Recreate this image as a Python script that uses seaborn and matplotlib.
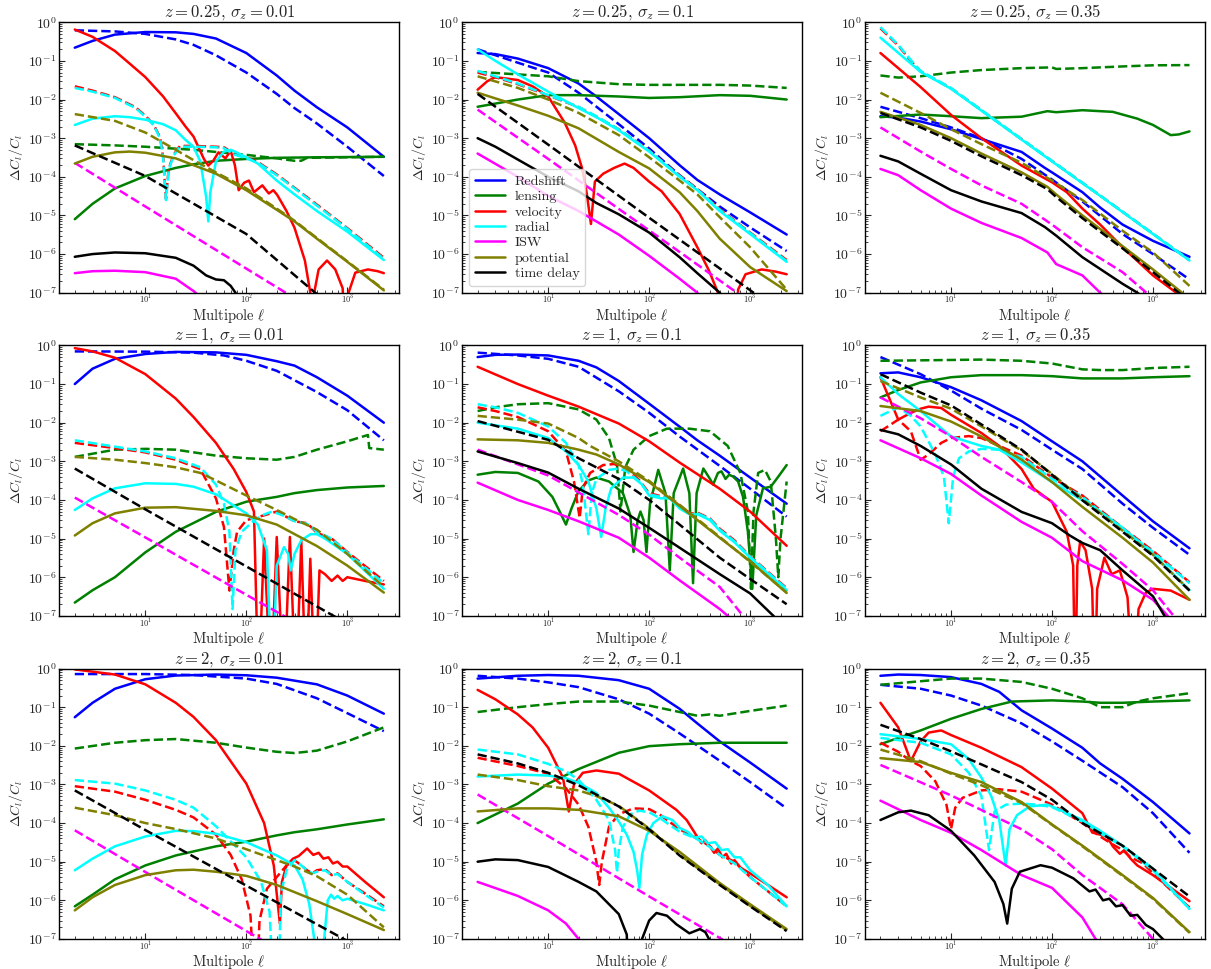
import numpy as np
import pandas as pd
import matplotlib
matplotlib.use('Agg')
import matplotlib.pyplot as plt
from matplotlib.lines import Line2D
import seaborn as sns

COMPONENTS = ['Redshift', 'lensing', 'velocity', 'radial', 'ISW', 'potential', 'time delay']
COLORS = {'Redshift': '#0000ff', 'lensing': '#008000', 'velocity': '#ff0000', 'radial': '#00ffff',
          'ISW': '#ff00ff', 'potential': '#808000', 'time delay': '#000000'}

# ---- z = 0.25, sigma_z = 0.01 ----
z025_s001_solid = {
    'Redshift': [(2, .22), (3, .33), (5, .48), (10, .56), (20, .55), (30, .5), (50, .38), (100, .16), (200, .042),
                 (300, .017), (500, 6.3e-3), (1000, 1.9e-3), (2300, 3.3e-4)],
    'lensing': [(2, 8e-6), (3, 2e-5), (5, 5e-5), (10, 1.05e-4), (20, 1.7e-4), (30, 2.1e-4), (50, 2.6e-4), (100, 2.9e-4),
                (200, 3.1e-4), (500, 3.2e-4), (2300, 3.3e-4)],
    'velocity': [(2, .65), (3, .42), (5, .18), (7, .085), (10, .038), (15, .012), (20, 4.4e-3), (25, 2e-3), (30, 1.1e-3),
                 (38, 2.9e-4), (42, 1.95e-4), (47, 2.6e-4), (53, 4.3e-4), (62, 3e-4), (70, 4.7e-4), (77, 2e-4),
                 (84, 4.5e-5), (95, 7e-5), (106, 8e-5), (119, 4e-5), (144, 6e-5), (167, 3.7e-5), (185, 4.5e-5),
                 (202, 3.4e-5), (250, 1.3e-5), (300, 4.8e-6), (380, 6.8e-7), (430, 1e-7), (450, 1e-9), (470, 1e-7),
                 (520, 4e-7), (630, 6.8e-7), (760, 4e-7), (900, 1.3e-7), (960, 1e-9), (1030, 1e-7), (1200, 3.3e-7),
                 (1600, 4e-7), (2000, 3.6e-7), (2300, 3.2e-7)],
    'radial': [(2, 2.2e-3), (3, 3.2e-3), (5, 3.7e-3), (7, 3.5e-3), (10, 3e-3), (15, 2.3e-3), (20, 1.6e-3), (25, 9e-4),
               (30, 6e-4), (35, 2.5e-4), (40, 3e-5), (42, 7e-6), (44, 4e-5), (50, 2.5e-4), (60, 4.5e-4), (70, 5e-4),
               (80, 4.3e-4), (100, 3.2e-4), (130, 2.2e-4), (200, 8e-5), (300, 3.5e-5), (500, 1.3e-5), (1000, 3.8e-6),
               (2300, 7e-7)],
    'ISW': [(2, 3.2e-7), (3, 3.6e-7), (5, 3.7e-7), (10, 3.4e-7), (20, 2.3e-7), (30, 1.1e-7), (40, 6e-8)],
    'potential': [(2, 2.2e-4), (3, 3.3e-4), (5, 4.3e-4), (7, 4.5e-4), (10, 4.2e-4), (20, 3e-4), (30, 2e-4), (50, 1.2e-4),
                  (100, 4.5e-5), (200, 1.4e-5), (300, 7e-6), (500, 2.5e-6), (1000, 6.3e-7), (2300, 1.15e-7)],
    'time delay': [(2, 8.5e-7), (3, 1e-6), (5, 1.1e-6), (10, 1.05e-6), (20, 8e-7), (30, 5e-7), (40, 2.8e-7),
                   (50, 2.2e-7), (60, 2.1e-7), (70, 1.5e-7), (78, 1e-7), (100, 3e-8)],
}
z025_s001_dashed = {
    'Redshift': [(2, .62), (5, .58), (10, .5), (20, .36), (30, .26), (50, .14), (100, .05), (200, .014), (300, 6e-3),
                 (500, 2.4e-3), (1000, 6e-4), (2300, 1.05e-4)],
    'lensing': [(2, 7e-4), (5, 6.5e-4), (10, 6e-4), (30, 5e-4), (100, 3.7e-4), (200, 3e-4), (300, 2.6e-4), (350, 2.6e-4),
                (400, 3.1e-4), (1000, 3.2e-4), (2300, 3.3e-4)],
    'velocity': [(2, .022), (3, .017), (5, .0115), (8, 6.3e-3), (10, 3.8e-3), (12, 2.3e-3), (14, 1.05e-3), (15, 3.2e-4),
                 (16, 2.7e-5), (17, 1.6e-4), (19, 3.7e-4), (22, 6.3e-4), (30, 6.3e-4), (50, 6e-4), (60, 5.8e-4),
                 (75, 4e-4), (100, 3.2e-4), (130, 2.4e-4), (200, 1.15e-4), (300, 5.2e-5), (500, 1.9e-5),
                 (1000, 4.7e-6), (2300, 8e-7)],
    'radial': [(2, .02), (3, .016), (5, .011), (8, 6e-3), (10, 3.6e-3), (12, 2.2e-3), (14, 1e-3), (15, 3e-4),
               (16, 2.5e-5), (17, 1.5e-4), (19, 3.5e-4), (22, 6e-4), (30, 6e-4), (50, 5.8e-4), (60, 5.5e-4),
               (75, 3.8e-4), (100, 3e-4), (130, 2.3e-4), (200, 1.1e-4), (300, 5e-5), (500, 1.8e-5), (1000, 4.5e-6),
               (2300, 7.5e-7)],
    'ISW': [(2, 2.3e-4), (10, 1.7e-5), (100, 4.2e-7), (245, 1e-7), (500, 3e-8)],
    'potential': [(2, 4.2e-3), (5, 2.8e-3), (10, 1.4e-3), (20, 5e-4), (30, 2.7e-4), (50, 1.3e-4), (100, 5e-5),
                  (200, 1.5e-5), (300, 7.3e-6), (500, 2.6e-6), (1000, 6.5e-7), (2300, 1.2e-7)],
    'time delay': [(2, 6.5e-4), (10, 1.05e-4), (100, 3.3e-6), (480, 1e-7), (1000, 3e-8)],
}

# ---- z = 0.25, sigma_z = 0.1 ----
z025_s01_solid = {
    'Redshift': [(2, .16), (3, .15), (5, .115), (10, .065), (20, .026), (30, .012), (50, 4.2e-3), (100, 1e-3),
                 (200, 2e-4), (300, 8.3e-5), (500, 3.5e-5), (1000, 1.2e-5), (2300, 3.2e-6)],
    'lensing': [(2, 6.5e-3), (5, 1e-2), (10, 1.3e-2), (20, 1.3e-2), (50, 1.2e-2), (100, 1.1e-2), (200, 1.15e-2),
                (500, 1.3e-2), (1000, 1.25e-2), (2300, 1e-2)],
    'velocity': [(2, .018), (2.5, .03), (3, .038), (5, .032), (7, .022), (10, .012), (14.6, 2.5e-3), (18.5, 6.5e-4),
                 (21.6, 1.7e-4), (24, 4e-5), (26.5, 6e-6), (29, 7.5e-5), (35, 1.2e-4), (45, 1.7e-4), (57, 2.2e-4),
                 (70, 1.7e-4), (100, 7.5e-5), (133, 4.2e-5), (200, 1.1e-5), (300, 1.5e-6), (390, 3.8e-7),
                 (480, 1e-7), (520, 1e-9), (700, 1e-9), (760, 1.2e-7), (900, 3e-7), (1300, 4e-7), (1800, 3.5e-7),
                 (2300, 3e-7)],
    'radial': [(2, .2), (3, .1), (5, .045), (10, .016), (20, 6e-3), (30, 3.5e-3), (50, 1.6e-3), (100, 4.5e-4),
               (200, 1e-4), (300, 4.5e-5), (500, 1.3e-5), (1000, 3.3e-6), (2300, 6.3e-7)],
    'ISW': [(2, 4e-4), (5, 1e-4), (10, 3.2e-5), (20, 1.3e-5), (30, 7e-6), (50, 3.2e-6), (100, 9e-7), (200, 2.3e-7),
            (300, 1e-7), (400, 4e-8)],
    'potential': [(2, .015), (5, 7e-3), (10, 3.8e-3), (20, 1.8e-3), (50, 4.4e-4), (100, 1.65e-4), (200, 4e-5),
                  (300, 1.3e-5), (500, 2.5e-6), (1000, 4.6e-7), (2300, 1.1e-7)],
    'time delay': [(2, 1e-3), (3, 6e-4), (5, 2.8e-4), (10, 1e-4), (20, 4.2e-5), (30, 2.1e-5), (50, 1.07e-5),
                   (100, 3.6e-6), (200, 8.3e-7), (300, 3.2e-7), (500, 1e-7), (700, 3e-8)],
}
z025_s01_dashed = {
    'Redshift': [(2, .2), (5, .09), (10, .05), (20, .015), (50, 2.3e-3), (100, 5.4e-4), (200, 1.1e-4), (500, 1.7e-5),
                 (1000, 4.9e-6), (2300, 1.2e-6)],
    'lensing': [(2, .052), (10, .04), (20, .03), (50, .025), (100, .024), (200, .024), (500, .024), (1000, .023),
                (2300, .02)],
    'velocity': [(2, .05), (3, .038), (5, .025), (10, .0128), (20, 6.4e-3), (30, 3.6e-3), (50, 1.7e-3), (100, 4.8e-4),
                 (200, 1.08e-4), (300, 4.8e-5), (500, 1.45e-5), (1000, 3.6e-6), (2300, 7e-7)],
    'radial': [(2, .055), (3, .04), (5, .026), (10, .013), (20, 6.5e-3), (30, 3.7e-3), (50, 1.7e-3), (100, 4.7e-4),
               (200, 1.05e-4), (300, 4.7e-5), (500, 1.4e-5), (1000, 3.5e-6), (2300, 6.6e-7)],
    'ISW': [(2, 5.5e-3), (10, 2.9e-4), (100, 4.1e-6), (740, 1e-7), (2300, 1.2e-8)],
    'potential': [(2, .04), (5, .02), (10, .01), (20, 4.5e-3), (50, 1.2e-3), (100, 3.2e-4), (200, 8e-5),
                  (300, 3.5e-5), (500, 9e-6), (1000, 1.5e-6), (2300, 1.2e-7)],
    'time delay': [(2, .014), (10, 6.8e-4), (100, 8.7e-6), (1080, 1e-7), (2300, 2.4e-8)],
}

# ---- z = 0.25, sigma_z = 0.35 ----
z025_s035_solid = {
    'Redshift': [(2, 3.7e-3), (3, 3.4e-3), (5, 2.7e-3), (10, 1.7e-3), (20, 9.5e-4), (50, 4.4e-4), (85, 1.7e-4),
                 (100, 1.3e-4), (200, 4e-5), (300, 1.6e-5), (500, 5.8e-6), (1000, 2.2e-6), (2300, 8.5e-7)],
    'lensing': [(2, 3.5e-3), (5, 4.1e-3), (10, 3.7e-3), (20, 3.3e-3), (50, 3.6e-3), (90, 5e-3), (110, 4.7e-3),
                (200, 5.3e-3), (400, 4.8e-3), (700, 3.2e-3), (1000, 2.2e-3), (1500, 1.2e-3), (1800, 1.25e-3),
                (2300, 1.5e-3)],
    'velocity': [(2, .16), (5, .021), (10, 4e-3), (20, 1e-3), (50, 1.95e-4), (100, 7.2e-5), (140, 4e-5),
                 (200, 1.5e-5), (300, 5.8e-6), (500, 1.5e-6), (1000, 2.8e-7), (1700, 1e-7), (2000, 6e-8)],
    'radial': [(2, .4), (5, .052), (10, .019), (30, 2.4e-3), (100, 2.5e-4), (300, 3.2e-5), (1000, 3.3e-6),
               (2300, 6.8e-7)],
    'ISW': [(2, 1.6e-4), (3, 1.1e-4), (5, 4.5e-5), (10, 1.5e-5), (20, 6.4e-6), (50, 2.6e-6), (90, 1.1e-6),
            (110, 5.5e-7), (200, 2.8e-7), (300, 1e-7), (400, 5e-8)],
    'potential': [(2, 4.8e-3), (5, 2.2e-3), (10, 1e-3), (20, 4e-4), (50, 1.3e-4), (90, 5.5e-5), (110, 3.5e-5),
                  (200, 1e-5), (500, 1.6e-6), (1000, 4e-7), (2300, 7e-8)],
    'time delay': [(2, 3.5e-4), (3, 2.5e-4), (5, 1.2e-4), (10, 4.5e-5), (20, 2.3e-5), (50, 1.15e-5), (85, 5e-6),
                   (110, 3e-6), (200, 8.3e-7), (500, 1.7e-7), (700, 1e-7), (1000, 5e-8)],
}
z025_s035_dashed = {
    'Redshift': [(2, 6.5e-3), (5, 3.3e-3), (10, 1.9e-3), (20, 1e-3), (50, 2.9e-4), (100, 8.5e-5), (200, 2.3e-5),
                 (500, 3.3e-6), (1000, 1e-6), (2300, 2.2e-7)],
    'lensing': [(2, .042), (3, .037), (5, .04), (10, .05), (20, .058), (50, .065), (100, .068), (110, .062),
                (200, .065), (500, .072), (1000, .077), (2300, .078)],
    'velocity': [(2, .7), (3, .25), (4, .1), (5, .053), (10, .0195), (30, 2.45e-3), (100, 2.55e-4), (300, 3.25e-5),
                 (1000, 3.35e-6), (2300, 6.9e-7)],
    'radial': [(2, .75), (3, .26), (4, .105), (5, .055), (10, .02), (30, 2.5e-3), (100, 2.6e-4), (300, 3.3e-5),
               (1000, 3.4e-6), (2300, 7e-7)],
    'ISW': [(2, 1.9e-3), (5, 4.5e-4), (10, 1.6e-4), (20, 6e-5), (50, 2e-5), (100, 5.8e-6), (200, 1.5e-6),
            (500, 3.4e-7), (860, 1e-7), (1200, 5e-8)],
    'potential': [(2, 1.5e-2), (5, 4.5e-3), (10, 1.7e-3), (20, 7e-4), (50, 2.3e-4), (100, 8e-5), (200, 2.5e-5),
                  (500, 4e-6), (1000, 1.1e-6), (2300, 1.5e-7)],
    'time delay': [(2, 4.5e-3), (5, 1.9e-3), (10, 8.5e-4), (20, 3.4e-4), (50, 1.1e-4), (90, 4.8e-5), (110, 3e-5),
                   (200, 8.5e-6), (500, 1.4e-6), (1000, 3.4e-7), (2300, 6e-8)],
}

# ---- z = 1, sigma_z = 0.01 ----
z1_s001_solid = {
    'Redshift': [(2, .1), (3, .25), (5, .45), (10, .6), (20, .68), (50, .66), (100, .57), (200, .39), (300, .3),
                 (500, .15), (1000, .05), (2300, .01)],
    'lensing': [(2, 2.2e-7), (3, 4.6e-7), (5, 1e-6), (10, 4.4e-6), (20, 1.5e-5), (50, 4.9e-5), (100, 9e-5),
                (200, 1.2e-4), (300, 1.5e-4), (500, 1.8e-4), (1000, 2.1e-4), (2300, 2.3e-4)],
    'velocity': [(2, .85), (3, .7), (5, .48), (10, .18), (20, .042), (30, .014), (50, 3e-3), (75, 6.3e-4),
                 (100, 1.6e-4), (119, 5e-5), (132, 1e-9), (150, 1e-5), (175, 1e-9), (200, 1.1e-5), (235, 1e-9),
                 (270, 1.1e-5), (310, 1e-9), (350, 9e-6), (390, 1e-9), (430, 3e-6), (480, 1e-9), (530, 1.5e-6),
                 (600, 1.2e-6), (700, 8e-7), (800, 1.1e-6), (900, 8e-7), (1000, 1e-6), (1500, 8e-7), (2300, 6.5e-7)],
    'radial': [(2, 5.5e-5), (3, 1.1e-4), (5, 2e-4), (10, 2.7e-4), (20, 2.6e-4), (30, 2.2e-4), (50, 1.4e-4),
               (70, 8e-5), (100, 4.5e-5), (130, 2.3e-5), (160, 5e-6), (180, 1e-9), (200, 2e-6), (236, 6e-6),
               (260, 4e-6), (275, 1.5e-6), (300, 4e-6), (350, 9e-6), (433, 1.3e-5), (500, 1.3e-5), (600, 1e-5),
               (1000, 4e-6), (2300, 5e-7)],
    'potential': [(2, 1.2e-5), (3, 2.5e-5), (5, 4.5e-5), (10, 6.3e-5), (20, 6.5e-5), (50, 5.2e-5), (100, 4e-5),
                  (200, 2.3e-5), (500, 6.4e-6), (1000, 2e-6), (2300, 4e-7)],
}
z1_s001_dashed = {
    'Redshift': [(2, .7), (10, .69), (30, .65), (60, .55), (100, .4), (200, .22), (500, .062), (1000, .021),
                 (2300, 3.5e-3)],
    'lensing': [(2, 1.3e-3), (5, 2e-3), (10, 2.1e-3), (20, 2e-3), (50, 1.4e-3), (100, 1.2e-3), (200, 1.1e-3),
                (300, 1.3e-3), (500, 2e-3), (1000, 3.3e-3), (1600, 4.8e-3), (1650, 2.2e-3), (2300, 2e-3)],
    'velocity': [(2, 3e-3), (5, 2.2e-3), (10, 1.7e-3), (20, 1.1e-3), (35, 6.3e-4), (50, 1.1e-4), (60, 2e-5),
                 (68, 4.5e-7), (75, 5e-6), (81, 1.5e-5), (100, 3e-5), (150, 4e-5), (200, 5e-5), (300, 2.8e-5),
                 (400, 2.5e-5), (500, 1.4e-5), (700, 1e-5), (1000, 4.5e-6), (2300, 8e-7)],
    'radial': [(2, 3.5e-3), (5, 2.4e-3), (10, 1.8e-3), (20, 1.2e-3), (35, 7e-4), (50, 2.5e-4), (60, 8e-5),
               (68, 1.5e-5), (73, 1.5e-7), (78, 5e-6), (90, 1.5e-5), (120, 3e-5), (150, 4.2e-5), (180, 5e-5),
               (230, 4e-5), (300, 2.8e-5), (400, 2.4e-5), (500, 1.5e-5), (700, 1e-5), (1000, 4.3e-6),
               (2300, 7e-7)],
    'ISW': [(2, 1.15e-4), (10, 1.07e-5), (100, 3.5e-7), (235, 1e-7), (500, 3.3e-8)],
    'potential': [(2, 1.3e-3), (5, 1.1e-3), (10, 9e-4), (20, 7e-4), (35, 5e-4), (50, 3.2e-4), (100, 1.3e-4),
                  (200, 5.5e-5), (300, 3.2e-5), (500, 1.7e-5), (1000, 4e-6), (2300, 5.6e-7)],
    'time delay': [(2, 6.5e-4), (10, 5.7e-5), (100, 1.9e-6), (730, 1e-7), (2300, 1.8e-8)],
}

# ---- z = 1, sigma_z = 0.1 ----
z1_s01_solid = {
    'Redshift': [(2, .5), (3, .57), (5, .58), (10, .55), (20, .4), (30, .27), (50, .12), (100, .031), (200, 7.9e-3),
                 (300, 3.5e-3), (500, 1.4e-3), (1000, 3.8e-4), (2300, 8e-5)],
    'lensing': [(2, 4.5e-4), (3, 5.3e-4), (5, 5e-4), (8, 3e-4), (11, 1.2e-4), (13, 5e-5), (15, 2.3e-5), (17, 6e-5),
                (20, 1.7e-4), (25, 3.2e-4), (30, 3.8e-4), (40, 3e-4), (55, 1.5e-4), (65, 4e-5), (70, 4.5e-6),
                (77, 3e-5), (82, 5e-5), (88, 3e-5), (94, 4.5e-6), (102, 8e-5), (123, 6e-4), (145, 1.5e-4),
                (160, 1.5e-6), (175, 1.5e-4), (217, 6.5e-4), (250, 1.5e-4), (272, 7e-7), (295, 1.5e-4),
                (344, 6.5e-4), (400, 3.5e-4), (430, 2.5e-4), (480, 5e-4), (520, 5.5e-4), (570, 3.5e-4),
                (620, 4.5e-4), (680, 4e-4), (760, 3e-4), (850, 1.2e-4), (950, 1.5e-5), (1050, 5e-7), (1150, 4e-5),
                (1340, 2e-4), (1600, 2.2e-4), (1900, 4e-4), (2300, 8e-4)],
    'velocity': [(2, .28), (5, .1), (10, .05), (20, .026), (50, 9.5e-3), (100, 3.3e-3), (200, 9.3e-4),
                 (500, 1.95e-4), (1000, 5e-5), (2300, 6.5e-6)],
    'radial': [(2, .01), (5, 7e-3), (10, 4e-3), (15, 1.8e-3), (20, 8e-4), (25, 3e-4), (30, 6e-5), (33.5, 1.1e-5),
               (37, 6e-5), (42, 2e-4), (55, 3.8e-4), (70, 3.8e-4), (85, 2.5e-4), (100, 1.3e-4), (130, 1.1e-4),
               (160, 1.1e-4), (200, 6e-5), (260, 4e-5), (300, 4.3e-5), (400, 3e-5), (500, 1.6e-5), (700, 8e-6),
               (1000, 3.2e-6), (2300, 4.6e-7)],
    'ISW': [(2, 2.8e-4), (5, 1e-4), (10, 5.5e-5), (20, 2.8e-5), (50, 1.05e-5), (100, 3.2e-6), (200, 8.3e-7),
            (500, 1.5e-7), (600, 1e-7), (1000, 3e-8)],
    'potential': [(2, 3.7e-3), (5, 3.5e-3), (10, 3e-3), (20, 2e-3), (30, 1.5e-3), (50, 8.3e-4), (100, 2.9e-4),
                  (200, 7e-5), (500, 1.05e-5), (1000, 2.6e-6), (2300, 3.9e-7)],
    'time delay': [(2, 1.8e-3), (5, 9e-4), (10, 5.1e-4), (20, 1.95e-4), (50, 6e-5), (100, 1.9e-5), (200, 5.8e-6),
                   (500, 1.2e-6), (1000, 3.8e-7), (1700, 1e-7), (2300, 4e-8)],
}
z1_s01_dashed = {
    'Redshift': [(2, .65), (5, .55), (10, .45), (20, .28), (50, .065), (100, .018), (200, 4.4e-3), (500, 7.6e-4),
                 (1000, 1.95e-4), (2300, 3.7e-5)],
    'lensing': [(2, .02), (3, .025), (5, .03), (10, .032), (20, .022), (30, .012), (40, 4e-3), (48, 8e-4),
                (52, 5e-5), (58, 7e-4), (70, 2e-3), (100, 4.5e-3), (150, 7e-3), (250, 7e-3), (400, 6e-3),
                (600, 2.5e-3), (800, 5e-4), (950, 5e-5), (1020, 5e-7), (1080, 5e-5), (1200, 5e-4), (1400, 6e-4),
                (1600, 3e-4), (1800, 1e-5), (1900, 1e-6), (2000, 1e-5), (2300, 3e-4)],
    'velocity': [(2, .025), (3, .02), (5, .014), (10, 6e-3), (15, 1.8e-3), (18, 3e-4), (20.5, 3.4e-5), (22, 2e-4),
                 (26, 5e-4), (35, 8e-4), (45, 8.5e-4), (60, 6.5e-4), (80, 3.2e-4), (100, 1.5e-4), (130, 1.25e-4),
                 (160, 1.15e-4), (200, 7e-5), (260, 4.4e-5), (300, 4.7e-5), (400, 3.3e-5), (500, 1.8e-5),
                 (700, 9e-6), (1000, 3.5e-6), (2300, 5.2e-7)],
    'radial': [(2, .03), (3, .025), (5, .018), (10, 8e-3), (15, 3e-3), (20, 8e-4), (22, 2.5e-4), (25, 1.3e-5),
               (27, 1.5e-4), (30, 3.5e-4), (40, 6e-4), (50, 6.5e-4), (60, 5.5e-4), (80, 3e-4), (100, 1.4e-4),
               (130, 1.2e-4), (160, 1.1e-4), (200, 6.5e-5), (260, 4.2e-5), (300, 4.5e-5), (400, 3.2e-5),
               (500, 1.7e-5), (700, 8.5e-6), (1000, 3.4e-6), (2300, 5e-7)],
    'ISW': [(2, 2e-3), (10, 4.3e-4), (50, 4.1e-5), (100, 1.26e-5), (200, 3.2e-6), (500, 5.6e-7), (850, 1e-7),
            (2000, 1e-8)],
    'potential': [(2, .015), (5, .012), (10, 9.5e-3), (20, 4e-3), (26, 2.5e-3), (50, 1e-3), (100, 3.1e-4),
                  (200, 7.5e-5), (500, 1.1e-5), (1000, 2.5e-6), (2300, 4e-7)],
    'time delay': [(2, .011), (10, 3.6e-3), (20, 1.2e-3), (50, 3.5e-4), (100, 1e-4), (200, 2.3e-5), (500, 3.2e-6),
                   (1000, 9e-7), (2300, 2e-7)],
}

# ---- z = 1, sigma_z = 0.35 ----
z1_s035_solid = {
    'Redshift': [(2, .19), (3, .2), (5, .15), (10, .083), (20, .038), (50, .011), (100, 3.3e-3), (200, 1e-3),
                 (500, 1.3e-4), (1000, 2.8e-5), (2300, 5.6e-6)],
    'lensing': [(2, .045), (3, .07), (5, .11), (10, .15), (20, .17), (50, .17), (100, .16), (200, .14), (500, .14),
                (1000, .15), (2300, .16)],
    'velocity': [(2, .15), (3, .012), (4, .018), (5, .023), (6, .026), (8, .024), (10, .016), (20, 5.4e-3),
                 (30, 2.5e-3), (50, 6.3e-4), (66, 1.95e-4), (100, 8.9e-5), (140, 1.5e-5), (162, 2e-6),
                 (170, 1e-9), (178, 2e-6), (190, 8.5e-6), (215, 5e-6), (250, 5e-7), (265, 1e-9), (280, 5e-7),
                 (330, 3.2e-6), (390, 1.2e-6), (470, 1.5e-6), (560, 3e-7), (640, 1e-9), (720, 1.5e-7), (850, 4e-7),
                 (1000, 5e-7), (1500, 4.5e-7), (2300, 2.6e-7)],
    'radial': [(2, .15), (3, .055), (5, .02), (10, 4.4e-3), (20, 2.5e-3), (30, 2e-3), (50, 9.3e-4), (100, 2.9e-4),
               (200, 9.8e-5), (300, 5e-5), (500, 1.9e-5), (1000, 4e-6), (2300, 4.6e-7)],
    'ISW': [(2, 3.5e-3), (5, 1.2e-3), (10, 4.7e-4), (20, 1.3e-4), (50, 2.7e-5), (100, 1.05e-5), (200, 2.6e-6),
            (500, 8.3e-7), (1000, 2.6e-7), (1400, 1e-7)],
    'potential': [(2, .027), (5, .02), (10, .0107), (20, 4.4e-3), (50, 1.1e-3), (100, 2.9e-4), (200, 6.6e-5),
                  (500, 1.05e-5), (1000, 2.4e-6), (2300, 2.6e-7)],
    'time delay': [(2, 6.5e-3), (3, 5e-3), (5, 2.5e-3), (10, 8.3e-4), (20, 1.95e-4), (50, 4.9e-5), (100, 2.5e-5),
                   (150, 1.2e-5), (200, 7.7e-6), (300, 5e-6), (500, 1.5e-6), (1000, 3.2e-7), (1300, 1e-7),
                   (1600, 5e-8)],
}
z1_s035_dashed = {
    'Redshift': [(2, .5), (5, .18), (10, .068), (20, .023), (50, 6.5e-3), (100, 2e-3), (200, 6.3e-4), (500, 8e-5),
                 (1000, 1.9e-5), (2300, 3.8e-6)],
    'lensing': [(2, .4), (10, .42), (20, .43), (50, .4), (100, .34), (200, .24), (300, .23), (500, .23), (1000, .26),
                (2300, .28)],
    'velocity': [(2, 6e-3), (3, .012), (4, 6e-3), (5, 1.1e-3), (6, 1.5e-3), (8, 3e-3), (10, 4e-3), (15, 4.5e-3),
                 (20, 4e-3), (30, 2.5e-3), (50, 1.4e-3), (100, 3.8e-4), (200, 1.3e-4), (300, 5.5e-5), (500, 1.9e-5),
                 (1000, 4.8e-6), (2300, 7.4e-7)],
    'radial': [(2, .015), (3, .025), (4, .015), (5, 8e-3), (7, 1.5e-3), (8.5, 4e-4), (9.5, 2.5e-5), (10.5, 4e-4),
               (12, 1.2e-3), (15, 1.8e-3), (20, 2.1e-3), (30, 2e-3), (50, 1.3e-3), (100, 3.5e-4), (200, 1.2e-4),
               (300, 5e-5), (500, 1.8e-5), (1000, 4.5e-6), (2300, 7e-7)],
    'ISW': [(2, .045), (5, .013), (10, 4.4e-3), (20, 1.3e-3), (50, 2.9e-4), (100, 8.9e-5), (200, 1.55e-5),
            (500, 2.2e-6), (1000, 4.6e-7), (1600, 1e-7)],
    'potential': [(2, .12), (5, .045), (10, .023), (20, 8e-3), (50, 1.9e-3), (100, 4.7e-4), (200, 1.05e-4),
                  (500, 1.6e-5), (1000, 3.8e-6), (2300, 4.6e-7)],
    'time delay': [(2, .18), (5, .06), (10, .028), (20, 9e-3), (50, 2e-3), (100, 4.5e-4), (200, 9.8e-5),
                   (500, 1.5e-5), (1000, 3.6e-6), (2300, 4.5e-7)],
}

# ---- z = 2, sigma_z = 0.01 ----
z2_s001_solid = {
    'Redshift': [(2, .055), (3, .13), (5, .3), (10, .53), (20, .66), (50, .7), (100, .67), (200, .58), (500, .39),
                 (1000, .2), (2300, .068)],
    'lensing': [(2, 7e-7), (3, 1.4e-6), (5, 3.5e-6), (10, 8e-6), (20, 1.45e-5), (50, 2.5e-5), (100, 3.3e-5),
                (200, 4.8e-5), (300, 5.8e-5), (500, 6.9e-5), (1000, 9.2e-5), (2300, 1.25e-4)],
    'velocity': [(2, .95), (5, .7), (10, .39), (20, .13), (30, .056), (50, .014), (100, 1.05e-3), (150, 1e-4),
                 (187, 8e-6), (205, 8e-7), (215, 2.5e-7), (225, 3e-6), (250, 8e-6), (290, 1.2e-5), (330, 1.4e-5),
                 (400, 2.2e-5), (460, 1.5e-5), (520, 1.7e-5), (580, 1.2e-5), (650, 1.3e-5), (720, 9e-6),
                 (800, 1e-5), (900, 7.5e-6), (1000, 7.5e-6), (1500, 3e-6), (2300, 1.2e-6)],
    'radial': [(2, 6e-6), (3, 1.2e-5), (5, 2.5e-5), (10, 4.5e-5), (20, 6.3e-5), (30, 6.2e-5), (50, 5.3e-5),
               (100, 3.2e-5), (200, 1.45e-5), (300, 8e-6), (360, 3.5e-6), (420, 8e-7), (470, 1e-7), (500, 1e-9),
               (560, 1e-9), (590, 1e-7), (640, 1e-6), (690, 1.4e-6), (740, 1.1e-6), (800, 1.3e-6), (900, 1e-6),
               (1000, 1.1e-6), (1500, 8e-7), (2300, 5.5e-7)],
    'potential': [(2, 5.5e-7), (3, 1.2e-6), (5, 2.5e-6), (10, 4.5e-6), (20, 6e-6), (30, 6.2e-6), (50, 5.5e-6),
                  (100, 4.3e-6), (200, 2.5e-6), (500, 9.5e-7), (1000, 4.4e-7), (2300, 1.7e-7)],
}
z2_s001_dashed = {
    'Redshift': [(2, .72), (10, .72), (30, .68), (100, .55), (200, .4), (500, .17), (1000, .07), (2300, .024)],
    'lensing': [(2, 8.5e-3), (5, .012), (10, .014), (20, .015), (50, .012), (100, 9e-3), (200, 7e-3), (300, 6.5e-3),
                (500, 7.5e-3), (1000, .013), (2300, .03)],
    'velocity': [(2, 9e-4), (5, 6.5e-4), (10, 4e-4), (20, 2.2e-4), (30, 1.4e-4), (50, 5e-5), (70, 1.5e-5),
                 (90, 3.5e-6), (110, 4e-7), (124, 1e-9), (135, 3e-7), (160, 2e-6), (200, 4e-6), (250, 8e-6),
                 (300, 1.1e-5), (350, 8e-6), (400, 6e-6), (450, 5e-6), (500, 6e-6), (600, 6.5e-6), (700, 4.5e-6),
                 (800, 5e-6), (1000, 3e-6), (1500, 1.5e-6), (2300, 7e-7)],
    'radial': [(2, 1.3e-3), (5, 1.05e-3), (10, 7e-4), (20, 4e-4), (30, 2.5e-4), (50, 8.3e-5), (100, 1.3e-5),
               (140, 3e-6), (170, 5e-7), (190, 1e-9), (205, 1e-9), (220, 1.5e-6), (250, 6e-6), (300, 1.1e-5),
               (350, 8e-6), (400, 6e-6), (450, 5e-6), (500, 5.5e-6), (600, 6e-6), (700, 4.5e-6), (800, 4.8e-6),
               (1000, 3e-6), (1500, 1.4e-6), (2300, 6.5e-7)],
    'ISW': [(2, 6.5e-5), (10, 5.4e-6), (100, 1.6e-7), (137, 1e-7), (300, 3e-8)],
    'potential': [(2, 2.5e-4), (5, 1.6e-4), (10, 1e-4), (20, 7e-5), (50, 4e-5), (100, 2.1e-5), (200, 1.1e-5),
                  (300, 7.5e-6), (500, 4.2e-6), (1000, 1.4e-6), (2300, 2e-7)],
    'time delay': [(2, 7e-4), (10, 6.6e-5), (100, 2.4e-6), (920, 1e-7), (2300, 2.7e-8)],
}

# ---- z = 2, sigma_z = 0.1 ----
z2_s01_solid = {
    'Redshift': [(2, .55), (5, .65), (10, .68), (20, .65), (50, .5), (100, .3), (200, .091), (300, .038),
                 (500, .013), (1000, 3.7e-3), (2300, 7.8e-4)],
    'lensing': [(2, 1e-4), (5, 3.2e-4), (10, 1.05e-3), (20, 2.5e-3), (50, 6.6e-3), (100, 9.8e-3), (200, .011),
                (500, .012), (1000, .012), (2300, .012)],
    'velocity': [(2, .28), (3, .16), (5, .065), (7, .03), (10, 8.9e-3), (14, 1.5e-3), (16, 2e-4), (18, 1e-3),
                 (22, 2e-3), (30, 2.3e-3), (50, 1.9e-3), (100, 7e-4), (186, 2.2e-4), (235, 1.2e-4), (295, 4.7e-5),
                 (330, 3e-5), (360, 3.6e-5), (400, 2.5e-5), (440, 1.7e-5), (480, 2.2e-5), (530, 1.3e-5),
                 (580, 1.6e-5), (650, 9e-6), (700, 1.1e-5), (800, 7e-6), (1000, 5e-6), (1500, 2.5e-6),
                 (2300, 1.2e-6)],
    'radial': [(2, 1.6e-3), (5, 1.8e-3), (10, 1.7e-3), (15, 1.45e-3), (20, 1.1e-3), (30, 6e-4), (40, 2.5e-4),
               (50, 1.1e-4), (60, 5e-5), (70, 1.8e-5), (76, 6e-6), (80, 2.1e-6), (85, 1.5e-5), (95, 5e-5),
               (110, 1e-4), (135, 1.5e-4), (170, 1.2e-4), (200, 7.5e-5), (240, 6e-5), (280, 4.2e-5), (330, 4.5e-5),
               (380, 3e-5), (450, 3.2e-5), (520, 2e-5), (600, 2.1e-5), (700, 1.3e-5), (800, 1.3e-5), (1000, 6e-6),
               (1500, 2.5e-6), (2300, 7e-7)],
    'ISW': [(2, 3e-6), (5, 1.3e-6), (10, 5.5e-7), (15, 2.5e-7), (20, 1e-7), (25, 5e-8)],
    'potential': [(2, 2e-4), (5, 2.4e-4), (10, 2.4e-4), (20, 2.2e-4), (50, 1.5e-4), (100, 6.3e-5), (200, 1.8e-5),
                  (500, 2.8e-6), (1000, 7.9e-7), (2300, 1.8e-7)],
    'time delay': [(2, 1e-5), (3, 1.15e-5), (5, 1.1e-5), (10, 7.3e-6), (20, 3e-6), (30, 1.7e-6), (50, 4.4e-7),
                   (60, 1.3e-7), (64, 1e-9), (75, 1e-9), (85, 1e-7), (100, 3e-7), (118, 4.7e-7), (150, 4e-7),
                   (186, 2.4e-7), (250, 1.4e-7), (318, 1.8e-7), (360, 1.5e-7), (400, 9e-8)],
}
z2_s01_dashed = {
    'Redshift': [(2, .65), (5, .55), (10, .44), (20, .33), (50, .16), (100, .068), (200, .021), (500, 4.1e-3),
                 (1000, 1.15e-3), (2300, 2.4e-4)],
    'lensing': [(2, .075), (5, .1), (10, .12), (20, .14), (50, .14), (100, .11), (200, .075), (300, .06), (400, .065),
                (500, .06), (1000, .08), (2300, .11)],
    'velocity': [(2, 4.9e-3), (5, 3e-3), (10, 1.9e-3), (15, 8e-4), (20, 3e-4), (25, 8e-5), (30, 1e-5),
                 (32, 2.5e-6), (34, 1e-5), (40, 8e-5), (50, 1.7e-4), (70, 2.4e-4), (100, 2.3e-4), (130, 1.6e-4),
                 (200, 6.9e-5), (300, 4e-5), (400, 2.5e-5), (500, 1.5e-5), (700, 1e-5), (1000, 4e-6),
                 (2300, 7e-7)],
    'radial': [(2, 8e-3), (5, 6e-3), (10, 3.4e-3), (15, 2.2e-3), (20, 1.3e-3), (30, 4e-4), (40, 1.2e-4),
               (46, 2e-5), (48, 5.2e-6), (50, 2e-5), (55, 8e-5), (65, 1.7e-4), (80, 2.1e-4), (100, 1.9e-4),
               (130, 1.3e-4), (170, 8e-5), (200, 6e-5), (300, 3.8e-5), (400, 2.4e-5), (500, 1.5e-5), (700, 9e-6),
               (1000, 4e-6), (2300, 7e-7)],
    'ISW': [(2, 5.5e-4), (10, 4.6e-5), (100, 1.26e-6), (520, 1e-7), (2000, 1.2e-8)],
    'potential': [(2, 1.8e-3), (5, 1.3e-3), (10, 9e-4), (20, 7e-4), (30, 5e-4), (50, 2.8e-4), (100, 7.2e-5),
                  (200, 1.5e-5), (500, 2.6e-6), (1000, 7.2e-7), (2300, 1.7e-7)],
    'time delay': [(2, 6e-3), (5, 3.5e-3), (10, 2e-3), (20, 9.5e-4), (50, 2.7e-4), (100, 6.9e-5), (200, 1.45e-5),
                   (500, 2.5e-6), (1000, 7e-7), (2300, 1.6e-7)],
}

# ---- z = 2, sigma_z = 0.35 ----
z2_s035_solid = {
    'Redshift': [(2, .65), (3, .7), (5, .68), (10, .6), (20, .4), (30, .25), (50, .083), (100, .028), (200, 8.9e-3),
                 (300, 3.5e-3), (500, 1.4e-3), (1000, 3.5e-4), (2300, 5.4e-5)],
    'lensing': [(2, .011), (3, .016), (5, .025), (10, .05), (20, .09), (40, .14), (100, .15), (200, .14), (300, .13),
                (500, .13), (1000, .14), (2300, .15)],
    'velocity': [(2, .13), (3, .03), (4, 4e-3), (5, .013), (6, .022), (8, .025), (10, .019), (20, 8.9e-3),
                 (50, 2.8e-3), (100, 7.8e-4), (200, 1.8e-4), (250, 5.7e-5), (300, 5e-5), (350, 4.5e-5), (400, 2.5e-5),
                 (470, 1.6e-5), (520, 2e-5), (600, 1.2e-5), (700, 8e-6), (1000, 4.5e-6), (2300, 9.5e-7)],
    'radial': [(2, .02), (5, .015), (10, .011), (15, 4.5e-3), (20, 1.5e-3), (25, 5e-4), (30, 1.2e-4), (34.7, 8e-6),
               (38, 7e-5), (45, 1.6e-4), (60, 2.7e-4), (90, 3e-4), (130, 2e-4), (200, 1.2e-4), (300, 6.3e-5),
               (500, 2.6e-5), (1000, 6.6e-6), (2300, 6e-7)],
    'ISW': [(2, 3.8e-4), (5, 1.2e-4), (10, 5.6e-5), (20, 2e-5), (50, 4.5e-6), (100, 2.1e-6), (200, 3.6e-7),
            (270, 1e-7), (400, 4e-8)],
    'potential': [(2, 4.8e-3), (5, 3.8e-3), (10, 2e-3), (20, 1.15e-3), (50, 3.5e-4), (100, 9.2e-5), (200, 2.6e-5),
                  (500, 4.5e-6), (1000, 1.15e-6), (2300, 1.5e-7)],
    'time delay': [(2, 1.2e-4), (3, 1.9e-4), (4, 2.1e-4), (6, 1.6e-4), (10, 6.3e-5), (17, 1.45e-5), (27, 3e-6),
                   (33, 8e-7), (36, 2.5e-7), (40, 2e-6), (48, 5.5e-6), (77, 8.1e-6), (100, 7e-6), (163, 3.7e-6),
                   (235, 1.7e-6), (270, 1.9e-6), (320, 1e-6), (370, 1.1e-6), (430, 7e-7), (500, 7.5e-7),
                   (600, 4e-7), (700, 4.2e-7), (850, 2.3e-7), (1000, 1.8e-7), (1250, 1e-7), (1500, 6e-8)],
}
z2_s035_dashed = {
    'Redshift': [(2, .38), (5, .3), (10, .2), (20, .11), (50, .038), (100, .013), (200, 4.1e-3), (500, 8.5e-4),
                 (1000, 1.8e-4), (2300, 1.7e-5)],
    'lensing': [(2, .38), (5, .47), (10, .55), (20, .55), (50, .45), (100, .3), (200, .17), (300, .1), (500, .1),
                (700, .14), (1000, .17), (2300, .23)],
    'velocity': [(2, .012), (3, 7e-3), (4, 4e-3), (5, 3e-3), (7, 1.2e-3), (9, 3e-4), (10, 7e-5), (11, 2.5e-4),
                 (13, 4.5e-4), (20, 7e-4), (30, 7.5e-4), (50, 6.5e-4), (100, 3e-4), (200, 1e-4), (300, 4.5e-5),
                 (400, 2.8e-5), (500, 2e-5), (600, 1.3e-5), (800, 9e-6), (1000, 5e-6), (2300, 6.5e-7)],
    'radial': [(2, .016), (5, .012), (10, 6e-3), (15, 2e-3), (20, 5e-4), (23.8, 2e-5), (27, 2e-4), (35, 3e-4),
               (50, 3.2e-4), (70, 3e-4), (100, 2.6e-4), (200, 1.1e-4), (300, 5.5e-5), (500, 2.5e-5), (1000, 6e-6),
               (2300, 6e-7)],
    'ISW': [(2, 3.2e-3), (10, 5.2e-4), (50, 6.9e-5), (100, 2.1e-5), (200, 4.5e-6), (500, 7.9e-7), (1000, 1e-7),
            (2000, 1.5e-8)],
    'potential': [(2, 8e-3), (5, 4e-3), (10, 1.9e-3), (20, 9.5e-4), (50, 3.3e-4), (100, 9e-5), (200, 2.5e-5),
                  (500, 4.3e-6), (1000, 1.1e-6), (2300, 1.45e-7)],
    'time delay': [(2, .035), (5, .015), (10, 7.2e-3), (20, 3.3e-3), (50, 1.15e-3), (100, 4e-4), (200, 1e-4),
                   (500, 2.6e-5), (1000, 6.6e-6), (2300, 1.26e-6)],
}

TITLES = [r'$z = 0.25$, $\sigma_z = 0.01$', r'$z = 0.25$, $\sigma_z = 0.1$', r'$z = 0.25$, $\sigma_z = 0.35$',
          r'$z = 1$, $\sigma_z = 0.01$', r'$z = 1$, $\sigma_z = 0.1$', r'$z = 1$, $\sigma_z = 0.35$',
          r'$z = 2$, $\sigma_z = 0.01$', r'$z = 2$, $\sigma_z = 0.1$', r'$z = 2$, $\sigma_z = 0.35$']
PANELS = [(z025_s001_solid, z025_s001_dashed), (z025_s01_solid, z025_s01_dashed), (z025_s035_solid, z025_s035_dashed),
          (z1_s001_solid, z1_s001_dashed), (z1_s01_solid, z1_s01_dashed), (z1_s035_solid, z1_s035_dashed),
          (z2_s001_solid, z2_s001_dashed), (z2_s01_solid, z2_s01_dashed), (z2_s035_solid, z2_s035_dashed)]
X_TICKS = [10, 100, 1000]
Y_TICKS = [1e-7, 1e-6, 1e-5, 1e-4, 1e-3, 1e-2, 1e-1, 1e0]


def panel_frame(solid, dashed):
    rows = []
    for kind, lines in (('solid', solid), ('dashed', dashed)):
        for comp, pts in lines.items():
            for ell, val in pts:
                rows.append((ell, val, comp, kind, comp + '_' + kind))
    return pd.DataFrame(rows, columns=['ell', 'value', 'component', 'kind', 'line'])


sns.set_style('ticks')
plt.rcParams.update({
    'font.family': 'serif',
    'font.serif': ['cmr10', 'DejaVu Serif'],
    'mathtext.fontset': 'cm',
    'axes.formatter.use_mathtext': True,
    'axes.unicode_minus': False,
    'xtick.direction': 'in',
    'ytick.direction': 'in',
    'axes.edgecolor': 'black',
    'axes.linewidth': 1.0,
})

fig, axes = plt.subplots(3, 3, figsize=(12.11, 9.69), dpi=100)
fig.subplots_adjust(left=0.049, right=0.995, bottom=0.031, top=0.977, wspace=0.185, hspace=0.195)

for i, ax in enumerate(axes.flat):
    solid, dashed = PANELS[i]
    df = panel_frame(solid, dashed)
    ax.set_xscale('log')
    ax.set_yscale('log')
    sns.lineplot(data=df, x='ell', y='value', hue='component', style='kind', units='line', estimator=None,
                 hue_order=[c for c in COMPONENTS if c in set(df['component'])], palette=COLORS,
                 style_order=['solid', 'dashed'], dashes={'solid': '', 'dashed': (3.7, 1.6)},
                 lw=1.8, legend=False, ax=ax)
    ax.set_ylim(1e-7, 1)
    ax.set_xticks(X_TICKS)
    ax.set_yticks(Y_TICKS)
    ax.set_title(TITLES[i], fontsize=12, pad=1.5)
    ax.set_xlabel(r'Multipole $\ell$', fontsize=10.5)
    ax.xaxis.set_label_coords(0.5, -0.052)
    ax.set_ylabel(r'$\Delta C_l/C_l$', fontsize=10, labelpad=2)
    ax.tick_params(axis='x', which='major', labelsize=6, length=4, pad=0.5)
    ax.tick_params(axis='y', which='major', labelsize=10, length=4, pad=2)
    ax.tick_params(which='minor', length=2)
    for side in ax.spines.values():
        side.set_visible(True)
        side.set_color('black')

handles = [Line2D([], [], color=COLORS[c], lw=1.8) for c in COMPONENTS]
axes[0, 1].legend(handles, COMPONENTS, loc='lower left', fontsize=10.2, handlelength=2.1, handletextpad=0.7,
                  labelspacing=0.17, borderaxespad=0.5)

fig.savefig('out.png', dpi=100)
